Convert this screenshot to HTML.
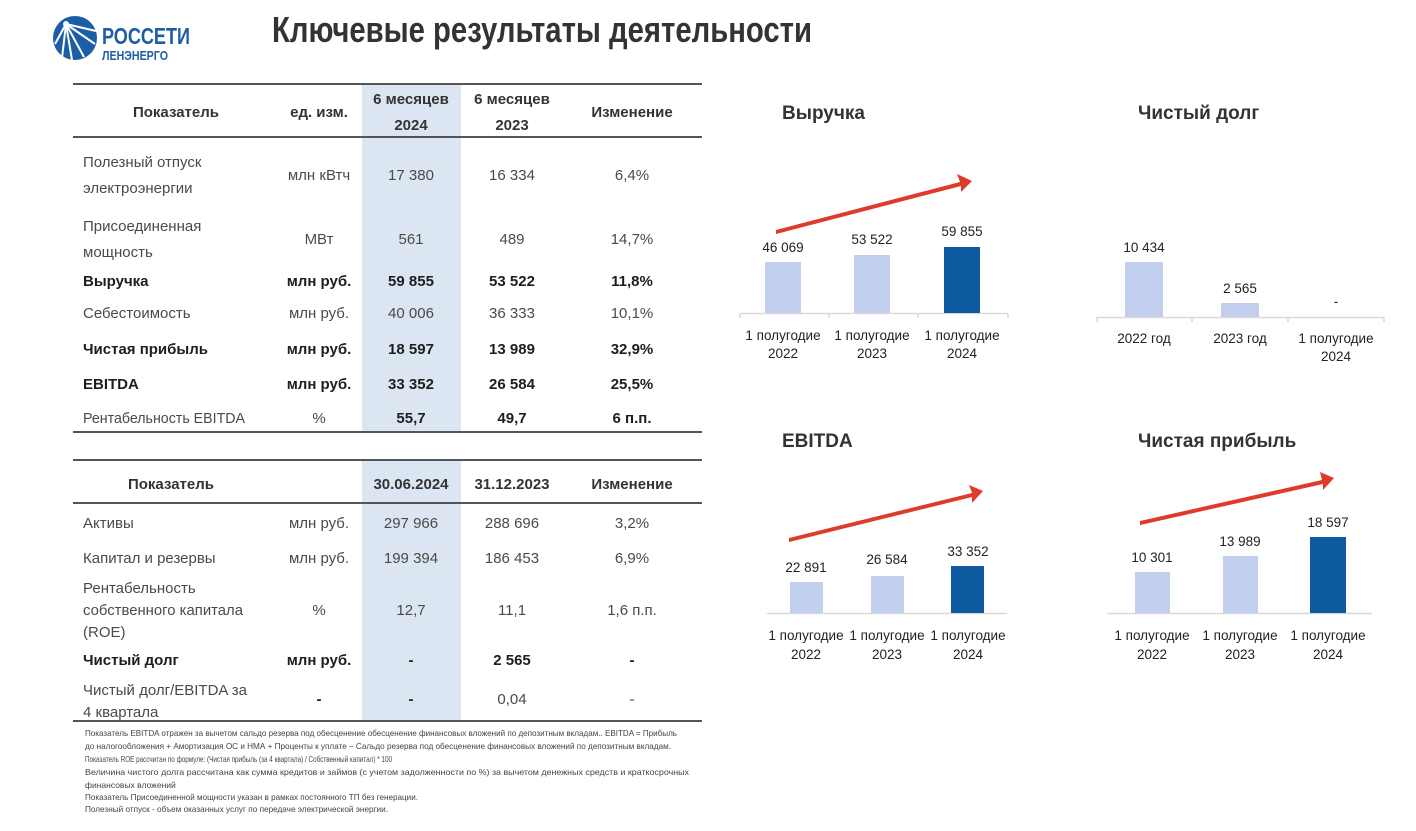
<!DOCTYPE html>
<html><head><meta charset="utf-8"><style>
html,body{margin:0;padding:0;background:#fff;}
svg{display:block;font-family:"Liberation Sans Narrow","Liberation Sans","DejaVu Sans Condensed",sans-serif;}
.n{font-size:15px;fill:#4a4a4a;}
.b{font-size:15px;fill:#1e1e1e;font-weight:bold;}
.h{font-size:15px;fill:#333;font-weight:bold;}
.c{text-anchor:middle;}
.v{font-size:13.5px;fill:#222;text-anchor:middle;}
.ct{font-size:19px;fill:#333;font-weight:bold;}
.f{font-size:8.5px;fill:#444;}
</style></head><body>
<svg width="1416" height="831" viewBox="0 0 1416 831">
<!-- logo -->
<circle cx="75" cy="38" r="22" fill="#1c5ea6"/>
<g stroke="#fff" stroke-width="2" fill="none">
<line x1="66" y1="24" x2="55" y2="44"/><line x1="66" y1="24" x2="62" y2="58"/><line x1="66" y1="24" x2="72" y2="60"/><line x1="66" y1="24" x2="84" y2="57"/><line x1="66" y1="24" x2="95" y2="44"/><line x1="66" y1="24" x2="96" y2="31"/>
</g>
<circle cx="66" cy="24" r="3" fill="#fff"/>
<text x="102" y="44" font-size="23" font-weight="bold" fill="#1c5ea6" textLength="88" lengthAdjust="spacingAndGlyphs">РОССЕТИ</text>
<text x="102" y="60" font-size="13" font-weight="bold" fill="#1c5ea6" textLength="66" lengthAdjust="spacingAndGlyphs">ЛЕНЭНЕРГО</text>
<text x="272" y="42" font-size="36" font-weight="bold" fill="#333" textLength="540" lengthAdjust="spacingAndGlyphs">Ключевые результаты деятельности</text>

<!-- table 1 -->
<rect x="362" y="85" width="99" height="347" fill="#dce6f2"/>
<line x1="73" y1="84" x2="702" y2="84" stroke="#555" stroke-width="2"/>
<line x1="73" y1="137" x2="702" y2="137" stroke="#555" stroke-width="2"/>
<line x1="73" y1="432" x2="702" y2="432" stroke="#555" stroke-width="2"/>
<text class="h c" x="176" y="117">Показатель</text>
<text class="h c" x="319" y="117">ед. изм.</text>
<text class="h c" x="411" y="104">6 месяцев</text><text class="h c" x="411" y="130">2024</text>
<text class="h c" x="512" y="104">6 месяцев</text><text class="h c" x="512" y="130">2023</text>
<text class="h c" x="632" y="117">Изменение</text>

<text class="n" x="83" y="167">Полезный отпуск</text><text class="n" x="83" y="193">электроэнергии</text>
<text class="n c" x="319" y="180">млн кВтч</text><text class="n c" x="411" y="180">17 380</text><text class="n c" x="512" y="180">16 334</text><text class="n c" x="632" y="180">6,4%</text>
<text class="n" x="83" y="231">Присоединенная</text><text class="n" x="83" y="257">мощность</text>
<text class="n c" x="319" y="244">МВт</text><text class="n c" x="411" y="244">561</text><text class="n c" x="512" y="244">489</text><text class="n c" x="632" y="244">14,7%</text>
<text class="b" x="83" y="286">Выручка</text>
<text class="b c" x="319" y="286">млн руб.</text><text class="b c" x="411" y="286">59 855</text><text class="b c" x="512" y="286">53 522</text><text class="b c" x="632" y="286">11,8%</text>
<text class="n" x="83" y="318">Себестоимость</text>
<text class="n c" x="319" y="318">млн руб.</text><text class="n c" x="411" y="318">40 006</text><text class="n c" x="512" y="318">36 333</text><text class="n c" x="632" y="318">10,1%</text>
<text class="b" x="83" y="354">Чистая прибыль</text>
<text class="b c" x="319" y="354">млн руб.</text><text class="b c" x="411" y="354">18 597</text><text class="b c" x="512" y="354">13 989</text><text class="b c" x="632" y="354">32,9%</text>
<text class="b" x="83" y="389">EBITDA</text>
<text class="b c" x="319" y="389">млн руб.</text><text class="b c" x="411" y="389">33 352</text><text class="b c" x="512" y="389">26 584</text><text class="b c" x="632" y="389">25,5%</text>
<text class="n" x="83" y="423" textLength="162" lengthAdjust="spacingAndGlyphs">Рентабельность EBITDA</text>
<text class="n c" x="319" y="423">%</text><text class="b c" x="411" y="423">55,7</text><text class="b c" x="512" y="423">49,7</text><text class="b c" x="632" y="423">6 п.п.</text>

<!-- table 2 -->
<rect x="362" y="461" width="99" height="259" fill="#dce6f2"/>
<line x1="73" y1="460" x2="702" y2="460" stroke="#555" stroke-width="2"/>
<line x1="73" y1="503" x2="702" y2="503" stroke="#555" stroke-width="2"/>
<line x1="73" y1="721" x2="702" y2="721" stroke="#555" stroke-width="2"/>
<text class="h c" x="171" y="489">Показатель</text>
<text class="h c" x="411" y="489">30.06.2024</text><text class="h c" x="512" y="489">31.12.2023</text><text class="h c" x="632" y="489">Изменение</text>
<text class="n" x="83" y="528">Активы</text>
<text class="n c" x="319" y="528">млн руб.</text><text class="n c" x="411" y="528" fill="#222">297 966</text><text class="n c" x="512" y="528">288 696</text><text class="n c" x="632" y="528">3,2%</text>
<text class="n" x="83" y="563">Капитал и резервы</text>
<text class="n c" x="319" y="563">млн руб.</text><text class="n c" x="411" y="563">199 394</text><text class="n c" x="512" y="563">186 453</text><text class="n c" x="632" y="563">6,9%</text>
<text class="n" x="83" y="593">Рентабельность</text><text class="n" x="83" y="615" textLength="160" lengthAdjust="spacingAndGlyphs">собственного капитала</text><text class="n" x="83" y="637">(ROE)</text>
<text class="n c" x="319" y="615">%</text><text class="n c" x="411" y="615">12,7</text><text class="n c" x="512" y="615">11,1</text><text class="n c" x="632" y="615">1,6 п.п.</text>
<text class="b" x="83" y="665">Чистый долг</text>
<text class="b c" x="319" y="665">млн руб.</text><text class="b c" x="411" y="665">-</text><text class="b c" x="512" y="665">2 565</text><text class="b c" x="632" y="665">-</text>
<text class="n" x="83" y="695" textLength="164" lengthAdjust="spacingAndGlyphs">Чистый долг/EBITDA за</text><text class="n" x="83" y="717">4 квартала</text>
<text class="b c" x="319" y="704">-</text><text class="b c" x="411" y="704">-</text><text class="n c" x="512" y="704">0,04</text><text class="n c" x="632" y="704">-</text>

<!-- footnotes -->
<text class="f" x="85" y="736" textLength="592" lengthAdjust="spacingAndGlyphs">Показатель EBITDA отражен за вычетом сальдо резерва под обесценение обесценение финансовых вложений по депозитным вкладам.. EBITDA = Прибыль</text>
<text class="f" x="85" y="749" textLength="586" lengthAdjust="spacingAndGlyphs">до налогообложения + Амортизация  ОС и НМА + Проценты к уплате – Сальдо резерва под обесценение финансовых вложений по депозитным вкладам.</text>
<text class="f" x="85" y="762" textLength="307" lengthAdjust="spacingAndGlyphs">Показатель ROE рассчитан по формуле: (Чистая прибыль (за 4 квартала) / Собственный капитал) * 100</text>
<text class="f" x="85" y="775" textLength="604" lengthAdjust="spacingAndGlyphs">Величина чистого долга рассчитана как сумма кредитов и займов (с учетом задолженности по %) за вычетом денежных средств и краткосрочных</text>
<text class="f" x="85" y="788">финансовых вложений</text>
<text class="f" x="85" y="800" textLength="333" lengthAdjust="spacingAndGlyphs">Показатель Присоединенной мощности указан в рамках постоянного ТП без генерации.</text>
<text class="f" x="85" y="812" textLength="303" lengthAdjust="spacingAndGlyphs">Полезный отпуск - объем оказанных услуг по передаче электрической энергии.</text>

<!-- chart titles -->
<text class="ct" x="782" y="119">Выручка</text>
<text class="ct" x="1138" y="119">Чистый долг</text>
<text class="ct" x="782" y="447">EBITDA</text>
<text class="ct" x="1138" y="447">Чистая прибыль</text>

<!-- Выручка -->
<g stroke="#d9d9d9" stroke-width="1.5"><line x1="740" y1="313.5" x2="1008" y2="313.5"/><line x1="740" y1="313" x2="740" y2="318"/><line x1="829" y1="313" x2="829" y2="318"/><line x1="918" y1="313" x2="918" y2="318"/><line x1="1008" y1="313" x2="1008" y2="318"/></g>
<rect x="765" y="262" width="36" height="51" fill="#c2cfee"/>
<rect x="854" y="255" width="36" height="58" fill="#c2cfee"/>
<rect x="944" y="247" width="36" height="66" fill="#0d5aa0"/>
<text class="v" x="783" y="252">46 069</text><text class="v" x="872" y="244">53 522</text><text class="v" x="962" y="236">59 855</text>
<text class="v" x="783" y="340">1 полугодие</text><text class="v" x="783" y="358">2022</text>
<text class="v" x="872" y="340">1 полугодие</text><text class="v" x="872" y="358">2023</text>
<text class="v" x="962" y="340">1 полугодие</text><text class="v" x="962" y="358">2024</text>
<polygon points="776,230 960,182 957,174 972,181 961,192 961,186 776,234" fill="#e03a2c"/>

<!-- Чистый долг -->
<g stroke="#d9d9d9" stroke-width="1.5"><line x1="1097" y1="317.5" x2="1384" y2="317.5"/><line x1="1097" y1="317" x2="1097" y2="322"/><line x1="1192" y1="317" x2="1192" y2="322"/><line x1="1288" y1="317" x2="1288" y2="322"/><line x1="1384" y1="317" x2="1384" y2="322"/></g>
<rect x="1125" y="262" width="38" height="55" fill="#c2cfee"/>
<rect x="1221" y="303" width="38" height="14" fill="#c2cfee"/>
<text class="v" x="1144" y="252">10 434</text><text class="v" x="1240" y="293">2 565</text><text class="v" x="1336" y="306">-</text>
<text class="v" x="1144" y="343">2022 год</text><text class="v" x="1240" y="343">2023 год</text>
<text class="v" x="1336" y="343">1 полугодие</text><text class="v" x="1336" y="361">2024</text>

<!-- EBITDA -->
<g stroke="#d9d9d9" stroke-width="1.5"><line x1="767" y1="613.5" x2="1007" y2="613.5"/></g>
<rect x="790" y="582" width="33" height="31" fill="#c2cfee"/>
<rect x="871" y="576" width="33" height="37" fill="#c2cfee"/>
<rect x="951" y="566" width="33" height="47" fill="#0d5aa0"/>
<text class="v" x="806" y="572">22 891</text><text class="v" x="887" y="564">26 584</text><text class="v" x="968" y="556">33 352</text>
<text class="v" x="806" y="640">1 полугодие</text><text class="v" x="806" y="659">2022</text>
<text class="v" x="887" y="640">1 полугодие</text><text class="v" x="887" y="659">2023</text>
<text class="v" x="968" y="640">1 полугодие</text><text class="v" x="968" y="659">2024</text>
<polygon points="789,538 972,493 969,485 983,491 972,503 972,497 789,542" fill="#e03a2c"/>

<!-- Чистая прибыль -->
<g stroke="#d9d9d9" stroke-width="1.5"><line x1="1107" y1="613.5" x2="1372" y2="613.5"/></g>
<rect x="1135" y="572" width="35" height="41" fill="#c2cfee"/>
<rect x="1223" y="556" width="35" height="57" fill="#c2cfee"/>
<rect x="1310" y="537" width="36" height="76" fill="#0d5aa0"/>
<text class="v" x="1152" y="562">10 301</text><text class="v" x="1240" y="546">13 989</text><text class="v" x="1328" y="527">18 597</text>
<text class="v" x="1152" y="640">1 полугодие</text><text class="v" x="1152" y="659">2022</text>
<text class="v" x="1240" y="640">1 полугодие</text><text class="v" x="1240" y="659">2023</text>
<text class="v" x="1328" y="640">1 полугодие</text><text class="v" x="1328" y="659">2024</text>
<polygon points="1140,521 1322,480 1320,472 1334,478 1323,490 1323,484 1140,525" fill="#e03a2c"/>
</svg>
</body></html>
